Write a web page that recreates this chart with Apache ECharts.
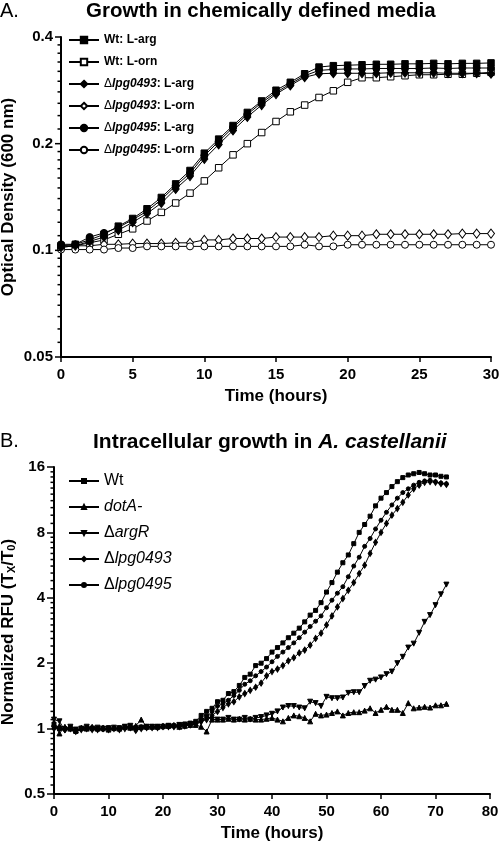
<!DOCTYPE html>
<html><head><meta charset="utf-8">
<script src="https://cdn.jsdelivr.net/npm/echarts@6/dist/echarts.min.js"></script>
<style>html,body{margin:0;padding:0;background:#fff}#c{width:500px;height:846px}</style>
</head><body><div id="c"></div><script>
const FONT = '"Liberation Sans", Arial, sans-serif';

// ---------- Panel A data ----------
const hoursA = [0,1,2,3,4,5,6,7,8,9,10,11,12,13,14,15,16,17,18,19,20,21,22,23,24,25,26,27,28,29,30];
const wtArg = [0.103,0.104,0.107,0.111,0.117,0.123,0.131,0.141,0.154,0.168,0.188,0.206,0.225,0.245,0.264,0.283,0.298,0.315,0.329,0.332,0.333,0.334,0.335,0.335,0.336,0.336,0.337,0.336,0.337,0.337,0.338];
const wtOrn = [0.102,0.103,0.105,0.107,0.111,0.115,0.121,0.128,0.136,0.145,0.157,0.171,0.186,0.2,0.215,0.231,0.246,0.257,0.27,0.282,0.298,0.307,0.307,0.309,0.311,0.313,0.313,0.314,0.314,0.316,0.318];
const d493Arg = [0.102,0.103,0.106,0.109,0.114,0.12,0.127,0.136,0.149,0.162,0.181,0.199,0.218,0.238,0.257,0.276,0.292,0.308,0.315,0.316,0.316,0.316,0.316,0.317,0.317,0.317,0.317,0.316,0.316,0.316,0.315];
const d493Orn = [0.103,0.103,0.103,0.104,0.104,0.1045,0.1045,0.1045,0.105,0.105,0.107,0.107,0.108,0.108,0.108,0.109,0.109,0.109,0.109,0.11,0.11,0.11,0.111,0.111,0.111,0.111,0.111,0.111,0.1115,0.1115,0.1115];
const d495Arg = [0.104,0.104,0.109,0.112,0.116,0.122,0.129,0.139,0.152,0.165,0.185,0.203,0.222,0.242,0.261,0.279,0.295,0.311,0.322,0.324,0.325,0.325,0.326,0.326,0.326,0.326,0.327,0.326,0.327,0.327,0.327];
const d495Orn = [0.1005,0.1005,0.1005,0.1005,0.1015,0.1015,0.1026,0.1026,0.1026,0.1026,0.1026,0.1026,0.1026,0.1026,0.1026,0.1026,0.1026,0.1037,0.1026,0.1026,0.1037,0.1037,0.1037,0.1037,0.1037,0.1037,0.1037,0.1037,0.1037,0.1037,0.1037];
const namesA = ['Wt: L-arg','Wt: L-orn','Δlpg0493: L-arg','Δlpg0493: L-orn','Δlpg0495: L-arg','Δlpg0495: L-orn'];
const majorTicksA = [0.05,0.1,0.2,0.4];
const majorLabelsA = ['0.05','0.1','0.2','0.4'];
const minorTicksA = [0.055,0.06,0.065,0.07,0.075,0.08,0.085,0.09,0.095,0.11,0.12,0.13,0.14,0.15,0.16,0.17,0.18,0.19,0.22,0.24,0.26,0.28,0.30,0.32,0.34,0.36,0.38];

// ---------- Panel B data ----------
const hoursB = [0,1,2,3,4,5,6,7,8,9,10,11,12,13,14,15,16,17,18,19,20,21,22,23,24,25,26,27,28,29,30,31,32,33,34,35,36,37,38,39,40,41,42,43,44,45,46,47,48,49,50,51,52,53,54,55,56,57,58,59,60,61,62,63,64,65,66,67,68,69,70,71,72];
const wtB = [1.05,1.0,1.0,1.01,0.97,1.0,1.01,1.0,1.0,1.0,1.01,1.0,1.01,1.02,1.02,1.01,1.01,1.02,1.02,1.02,1.02,1.03,1.03,1.04,1.05,1.06,1.08,
  1.15,1.2,1.24,1.33,1.35,1.45,1.48,1.58,1.72,1.78,1.95,2.0,2.1,2.25,2.36,2.48,2.62,2.75,2.9,3.1,3.33,3.5,3.8,4.25,4.7,5.25,5.8,6.3,7.1,8.0,8.7,9.5,10.6,11.5,12.2,13.0,13.7,14.3,14.7,14.9,15.1,14.9,14.7,14.7,14.5,14.4];
const dotAB = [1.05,0.95,1.02,1.0,0.98,1.01,1.0,1.02,1.0,1.01,0.99,1.01,1.0,1.02,1.01,1.03,1.1,1.02,1.02,1.02,1.03,1.03,1.04,1.02,1.03,1.04,1.04,
  1.02,0.97,1.1,1.1,1.1,1.11,1.1,1.11,1.1,1.11,1.1,1.1,1.11,1.12,1.1,1.08,1.12,1.15,1.14,1.12,1.08,1.17,1.15,1.16,1.18,1.2,1.15,1.18,1.19,1.19,1.21,1.24,1.18,1.22,1.26,1.22,1.22,1.18,1.31,1.24,1.25,1.26,1.25,1.28,1.28,1.3];
const argRB = [1.1,1.08,0.98,1.02,0.99,1.0,1.02,1.0,1.01,1.0,1.0,1.01,1.0,1.02,1.03,1.0,1.01,1.02,1.02,1.02,1.02,1.03,1.02,1.04,1.04,1.05,1.05,
  1.07,1.13,1.1,1.1,1.1,1.12,1.1,1.1,1.12,1.1,1.12,1.13,1.15,1.17,1.2,1.25,1.27,1.27,1.25,1.24,1.33,1.31,1.27,1.4,1.38,1.38,1.39,1.46,1.47,1.47,1.57,1.66,1.68,1.72,1.78,1.83,2.0,2.14,2.36,2.46,2.76,3.1,3.33,3.7,4.15,4.6];
const d493B = [1.0,1.02,0.99,1.0,0.97,0.99,1.0,0.99,0.99,1.0,0.99,1.0,0.99,1.0,1.01,0.98,1.0,1.01,1.01,1.01,1.02,1.02,1.02,1.02,1.03,1.04,1.05,
  1.08,1.1,1.15,1.2,1.25,1.3,1.33,1.4,1.45,1.5,1.55,1.62,1.75,1.83,1.88,1.95,2.05,2.12,2.23,2.3,2.42,2.6,2.75,3.0,3.3,3.63,3.97,4.33,4.7,5.17,5.65,6.4,7.2,8.0,8.8,9.6,10.3,11.0,11.9,12.7,13.2,13.6,13.7,13.6,13.4,13.3];
const d495B = [1.02,1.0,0.99,1.0,0.98,1.0,1.0,1.0,1.0,0.99,1.0,1.0,1.0,1.01,1.01,1.0,1.02,1.01,1.02,1.02,1.02,1.02,1.03,1.03,1.04,1.04,1.06,
  1.1,1.13,1.2,1.27,1.3,1.35,1.42,1.5,1.6,1.66,1.75,1.83,1.92,2.03,2.15,2.25,2.36,2.48,2.62,2.78,2.95,3.12,3.3,3.6,3.9,4.2,4.5,5.0,5.6,6.15,6.9,7.5,8.3,9.1,9.9,10.7,11.5,12.2,12.7,13.2,13.6,13.8,13.9,13.7,13.5,13.4];
const namesB = ['Wt','dotA-','ΔargR','Δlpg0493','Δlpg0495'];
const minorTicksB = [0.55,0.6,0.65,0.7,0.75,0.8,0.85,0.9,0.95,1.1,1.2,1.3,1.4,1.5,1.6,1.7,1.8,1.9,2.2,2.4,2.6,2.8,3.0,3.2,3.4,3.6,3.8,4.4,4.8,5.2,5.6,6.0,6.4,6.8,7.2,7.6,8.8,9.6,10.4,11.2,12.0,12.8,13.6,14.4,15.2];

// ---------- helpers ----------
function pairs(xs, ys){ return xs.map((x,i)=>[x, ys[i]]); }
function richSet(size, weight, lh){
  return {
    n:{fontFamily:FONT,fontWeight:weight,fontSize:size,color:'#000',lineHeight:lh},
    d:{fontFamily:FONT,fontWeight:'normal',fontSize:size,color:'#000',lineHeight:lh},
    i:{fontFamily:FONT,fontWeight:weight,fontStyle:'italic',fontSize:size,color:'#000',lineHeight:lh}
  };
}
function fmtLegend(name){
  let m = name.match(/^Δ([^:]+)(:.*)?$/);
  if (m) return '{d|Δ}{i|' + m[1] + '}' + (m[2] ? '{n|' + m[2] + '}' : '');
  if (name === 'dotA-') return '{i|dotA-}';
  return '{n|' + name + '}';
}
function lineSeries(name, xi, data, symbol, size, filled){
  return {
    type:'line', name, xAxisIndex:xi, yAxisIndex:xi, data,
    symbol, symbolSize:size, showSymbol:true,
    lineStyle:{color:'#000', width:1},
    itemStyle:{color: filled ? '#000' : '#fff', borderColor:'#000', borderWidth:1},
    emphasis:{disabled:true}, animation:false, z: filled ? 3 : 2
  };
}
function tickSeries(idx, xMin, ticks, len, labels){
  return {
    type:'custom', xAxisIndex:idx, yAxisIndex:idx, silent:true, clip:false, animation:false, z:6,
    data: ticks.map(v=>[xMin, v]),
    renderItem(params, api){
      const p = api.coord([api.value(0), api.value(1)]);
      const children = [{type:'line', shape:{x1:p[0]-len, y1:p[1], x2:p[0], y2:p[1]}, style:{stroke:'#000', lineWidth:1.5}}];
      if (labels) children.push({type:'text', style:{text:labels[params.dataIndex], x:p[0]-8, y:p[1], align:'right', verticalAlign:'middle', font:'bold 15px ' + FONT, fill:'#000'}});
      return {type:'group', children};
    }
  };
}
const axisLineStyle = {show:true, lineStyle:{color:'#000', width:2}};
const tickFont = {fontFamily:FONT, fontWeight:'bold', fontSize:15, color:'#000'};
const nameFont = {fontFamily:FONT, fontWeight:'bold', fontSize:17, color:'#000'};

const option = {
  backgroundColor:'#fff',
  animation:false,
  title:[
    {text:'A.', left:0, top:1, padding:0, textStyle:{fontFamily:FONT, fontSize:20, fontWeight:'normal', color:'#000'}},
    {text:'Growth in chemically defined media', left:86, top:1, padding:0, textStyle:{fontFamily:FONT, fontSize:20.5, fontWeight:'bold', color:'#000'}},
    {text:'B.', left:0, top:431, padding:0, textStyle:{fontFamily:FONT, fontSize:20, fontWeight:'normal', color:'#000'}},
    {text:'{b|Intracellular growth in }{bi|A. castellanii}', left:93, top:432, padding:0,
     textStyle:{rich:{b:{fontFamily:FONT, fontSize:21, fontWeight:'bold', color:'#000'}, bi:{fontFamily:FONT, fontSize:21, fontWeight:'bold', fontStyle:'italic', color:'#000'}}}}
  ],
  legend:[
    {orient:'vertical', left:68, top:34, padding:0, itemWidth:30, itemHeight:8, itemGap:10, data:namesA, selectedMode:false,
     formatter:fmtLegend, textStyle:{rich:richSet(12,'bold',14)}},
    {orient:'vertical', left:68, top:473, padding:0, itemWidth:30, itemHeight:5, itemGap:10, data:namesB, selectedMode:false,
     formatter:fmtLegend, textStyle:{rich:richSet(16,'normal',16)}}
  ],
  grid:[
    {left:61, top:37, width:430, height:320, containLabel:false, outerBoundsMode:'none'},
    {left:54, top:467, width:436, height:327, containLabel:false, outerBoundsMode:'none'}
  ],
  xAxis:[
    {gridIndex:0, type:'value', min:0, max:30, interval:5, axisLine:axisLineStyle,
     axisTick:{length:5, lineStyle:{color:'#000', width:1.5}}, splitLine:{show:false},
     axisLabel:{...tickFont, margin:10},
     name:'Time (hours)', nameLocation:'middle', nameGap:31, nameMoveOverlap:false, nameTextStyle:nameFont},
    {gridIndex:1, type:'value', min:0, max:80, interval:10, axisLine:axisLineStyle,
     axisTick:{length:5, lineStyle:{color:'#000', width:1.5}}, splitLine:{show:false},
     axisLabel:{...tickFont, margin:10},
     name:'Time (hours)', nameLocation:'middle', nameGap:31, nameMoveOverlap:false, nameTextStyle:nameFont}
  ],
  yAxis:[
    {gridIndex:0, type:'log', logBase:2, min:0.05, max:0.4, axisLine:axisLineStyle, axisTick:{show:false},
     axisLabel:{show:false}, splitLine:{show:false},
     name:'Optical Density (600 nm)', nameLocation:'middle', nameGap:44.5, nameMoveOverlap:false, nameTextStyle:nameFont},
    {gridIndex:1, type:'log', logBase:2, min:0.5, max:16, splitNumber:5, axisLine:axisLineStyle,
     axisTick:{length:7, lineStyle:{color:'#000', width:1.5}}, splitLine:{show:false},
     axisLabel:{...tickFont, margin:9},
     name:'{n|Normalized RFU (T}{s|X}{n|/T}{s|0}{n|)}', nameLocation:'middle', nameGap:37, nameMoveOverlap:false,
     nameTextStyle:{padding:[0,3,0,0], rich:{n:{fontFamily:FONT, fontWeight:'bold', fontSize:17, color:'#000', lineHeight:18},
                          s:{fontFamily:FONT, fontWeight:'bold', fontSize:11, color:'#000', lineHeight:18, verticalAlign:'bottom', padding:[6,0,0,0]}}}}
  ],
  series:[
    lineSeries(namesA[0], 0, pairs(hoursA, wtArg), 'rect', 6.5, true),
    lineSeries(namesA[1], 0, pairs(hoursA, wtOrn), 'rect', 6.5, false),
    lineSeries(namesA[2], 0, pairs(hoursA, d493Arg), 'diamond', [7,9], true),
    lineSeries(namesA[3], 0, pairs(hoursA, d493Orn), 'diamond', [7,9], false),
    lineSeries(namesA[4], 0, pairs(hoursA, d495Arg), 'circle', 7, true),
    lineSeries(namesA[5], 0, pairs(hoursA, d495Orn), 'circle', 7, false),
    lineSeries(namesB[0], 1, pairs(hoursB, wtB), 'rect', 4, true),
    lineSeries(namesB[1], 1, pairs(hoursB, dotAB), 'triangle', 5, true),
    {...lineSeries(namesB[2], 1, pairs(hoursB, argRB), 'triangle', 5, true), symbolRotate:180},
    lineSeries(namesB[3], 1, pairs(hoursB, d493B), 'diamond', [4,6], true),
    lineSeries(namesB[4], 1, pairs(hoursB, d495B), 'circle', 4, true),
    tickSeries(0, 0, majorTicksA, 6, majorLabelsA),
    tickSeries(0, 0, minorTicksA, 3.5, null),
    tickSeries(1, 0, minorTicksB, 3.5, null)
  ]
};
const chart = echarts.init(document.getElementById('c'), null, {renderer:'canvas'});
chart.setOption(option);
</script></body></html>
